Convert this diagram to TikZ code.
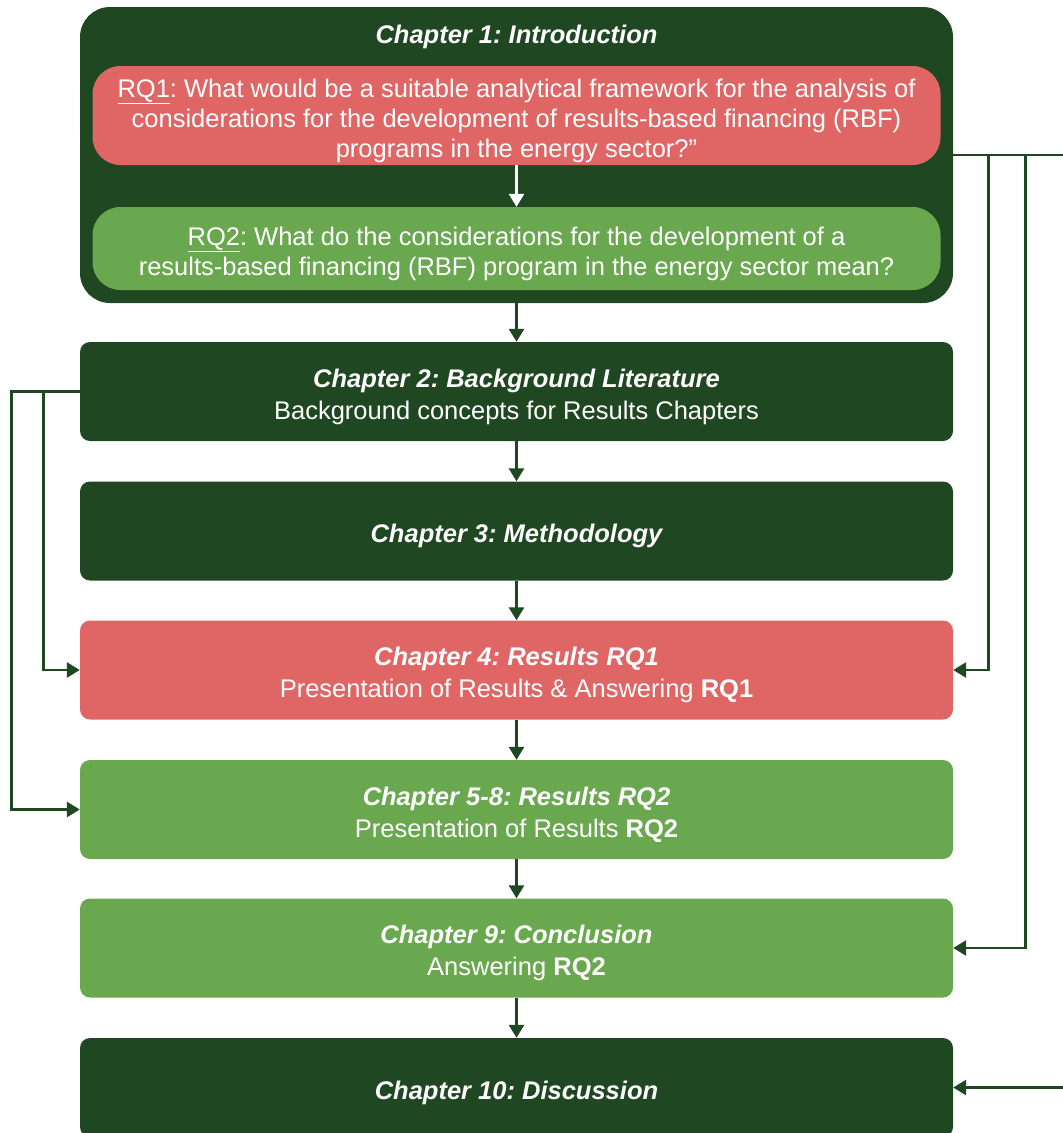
\documentclass[tikz,border=0pt]{standalone}
\usepackage{fontspec}
\setmainfont{Liberation Sans}
\usetikzlibrary{arrows.meta}
\frenchspacing

\definecolor{darkgreen}{RGB}{31,71,34}
\definecolor{rqred}{RGB}{224,102,102}
\definecolor{rqgreen}{RGB}{106,168,79}

% strut that lowers the text a little in the boxes
\newcommand{\tstrut}{\rule{0pt}{30pt}}

\begin{document}
\begin{tikzpicture}
    [ x=1pt, y=-1pt,
      font={\fontsize{25.5}{32}\selectfont},
      chapter/.style={rectangle, rounded corners=10pt, inner sep=0pt,
          minimum width=873pt, minimum height=99pt, text=white,
          align=center, execute at end node={\rule[-7pt]{0pt}{0pt}}},
      dark/.style={chapter, fill=darkgreen},
      red/.style={chapter, fill=rqred},
      green/.style={chapter, fill=rqgreen},
      rq/.style={rectangle, rounded corners=28pt, inner sep=0pt,
          minimum width=848pt, text=white, align=center,
          execute at end node={\rule[-7pt]{0pt}{0pt}},
          font={\fontsize{25.5}{30}\selectfont}},
      flow/.style={darkgreen, line width=2.8pt,
          -{Triangle[length=13pt,width=15pt]}},
      title/.style={font={\fontsize{25.5}{32}\selectfont\bfseries\itshape}}
    ]
    \useasboundingbox (0, 0) rectangle (1063, 1133);

    % Introduction with the research questions
    \node[dark, rounded corners=30pt, minimum height=296pt] (ch1) at (516.5, 155) {};
    \node[title, text=white] (ch1title) at (516.5, 37) {Chapter 1: Introduction};
    \node[rq, fill=rqred, minimum height=99pt] (rq1) at (516.5, 115.5)
        {\tstrut\underline{RQ1}: What would be a suitable analytical framework for the analysis of\\
         considerations for the development of results-based financing (RBF)\\
         programs in the energy sector?”};
    \node[rq, fill=rqgreen, minimum height=83pt] (rq2) at (516.5, 248.5)
        {\tstrut\underline{RQ2}: What do the considerations for the development of a\\
         results-based financing (RBF) program in the energy sector mean?};
    \draw[flow, white] (rq1) -- (rq2);

    % Chapters
    \node[dark] (ch2) at (516.5, 391.5)
        {\tstrut{\bfseries\itshape Chapter 2: Background Literature}\\Background concepts for Results Chapters};
    \node[dark] (ch3) at (516.5, 531)
        {\tstrut\bfseries\itshape Chapter 3: Methodology};
    \node[red] (ch4) at (516.5, 670)
        {\tstrut{\bfseries\itshape Chapter 4: Results RQ1}\\Presentation of Results \& Answering \textbf{RQ1}};
    \node[green] (ch5) at (516.5, 809.5)
        {\tstrut{\bfseries\itshape Chapter 5-8: Results RQ2}\\Presentation of Results \textbf{RQ2}};
    \node[green] (ch9) at (516.5, 948)
        {\tstrut{\bfseries\itshape Chapter 9: Conclusion}\\Answering \textbf{RQ2}};
    \node[dark] (ch10) at (516.5, 1087.5)
        {\tstrut\bfseries\itshape Chapter 10: Discussion};

    \foreach \a/\b in {ch1/ch2, ch2/ch3, ch3/ch4, ch4/ch5, ch5/ch9, ch9/ch10} {
        \draw[flow] (\a.south) -- (\b.north);
    }

    % Links on the right
    \draw[flow] (ch1.east) -| ([xshift=125pt]ch10.east) -- (ch10.east);
    \draw[flow] ([xshift=35pt]ch1.east) |- (ch4.east);
    \draw[flow] ([xshift=72pt]ch1.east) |- (ch9.east);

    % Links on the left
    \draw[flow] (ch2.west) -- ++(-68, 0) |- (ch5.west);
    \draw[flow] ([xshift=-36pt]ch2.west) |- (ch4.west);

\end{tikzpicture}
\end{document}
